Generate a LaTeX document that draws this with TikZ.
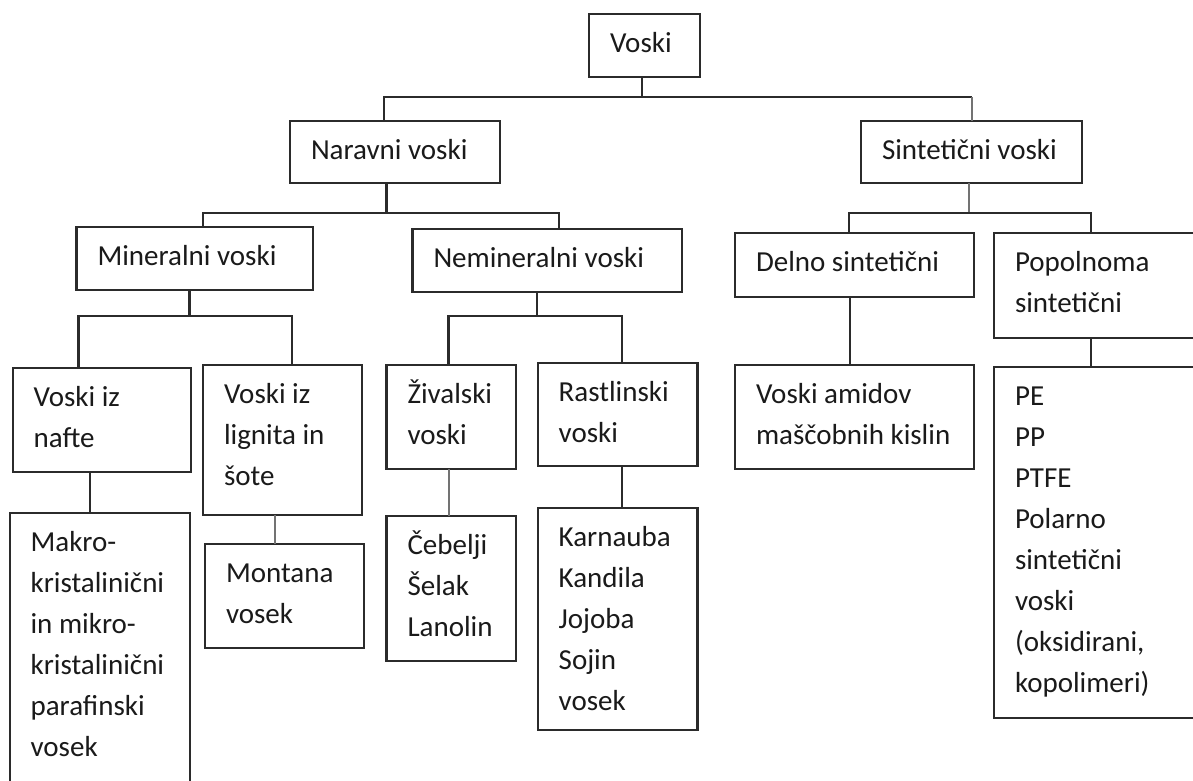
\documentclass[tikz,border=0pt]{standalone}
\usepackage{fontspec}
\setmainfont{Carlito}
\definecolor{linecol}{HTML}{2B2B2B}
\definecolor{textcol}{HTML}{1A1A1A}
\newcommand\celltext[3]{\parbox[t][#2][t]{#1}{\fontsize{29}{41}\selectfont\parindent0pt\leftskip21pt\relax\rule{0pt}{38pt}#3\par}}
\newcommand\bx[6]{\node[wbox] (#1) at (#2,#3) {\celltext{#4pt}{#5pt}{#6}};}
\begin{document}
\begin{tikzpicture}[x=1pt,y=-1pt,
  wbox/.style={draw=linecol, line width=2.2pt, inner sep=0pt, outer sep=0pt, anchor=north west, text=textcol},
  conn/.style={draw=linecol, line width=2.2pt},
  thinconn/.style={draw=black!55, line width=1.3pt}]
\useasboundingbox (0,0) rectangle (1193,780);
\fill[white] (0,0) rectangle (1193,780);
\clip (0,0) rectangle (1193,780);
% boxes: name, x, y, width, height, text
\bx{voski}{589}{14}{111}{63}{Voski}
\bx{naravni}{290}{121}{210}{62}{Naravni voski}
\bx{sinteticni}{861}{121}{221}{62}{Sintetični voski}
\bx{mineralni}{76.5}{227}{236.5}{63}{Mineralni voski}
\bx{nemineralni}{412.5}{229}{269.5}{63}{Nemineralni voski}
\bx{delno}{735}{233}{239}{64}{Delno sintetični}
\bx{popolnoma}{994}{233}{210}{105}{Popolnoma\\sintetični}
\bx{nafte}{12.6}{368}{178.4}{104}{Voski iz\\nafte}
\bx{lignita}{203}{365}{159}{150}{Voski iz\\lignita in\\šote}
\bx{zivalski}{386.5}{365}{129.5}{104}{Živalski\\voski}
\bx{rastlinski}{537.7}{363}{159.8}{103}{Rastlinski\\voski}
\bx{amidov}{735}{365}{239}{104}{Voski amidov\\maščobnih kislin}
\bx{pe}{994}{367}{210}{351}{PE\\PP\\PTFE\\Polarno\\sintetični\\voski\\(oksidirani,\\kopolimeri)}
\bx{makro}{9.6}{513}{180.4}{290}{Makro-\\kristalinični\\in mikro-\\kristalinični\\parafinski\\vosek}
\bx{montana}{205}{544}{158.6}{104}{Montana\\vosek}
\bx{cebelji}{386.5}{516}{129.5}{145}{Čebelji\\Šelak\\Lanolin}
\bx{karnauba}{537.7}{508}{159.8}{222}{Karnauba\\Kandila\\Jojoba\\Sojin\\vosek}
% level 1
\draw[conn] (641.6,0 |- voski.south) -- (641.6,97);
\draw[conn] (384,0 |- naravni.north) |- (972,97);
\draw[thinconn] (972,97) -- (972,0 |- sinteticni.north);
% naravni
\draw[conn] (386.5,0 |- naravni.south) -- (386.5,213);
\draw[conn] (203,0 |- mineralni.north) |- (559,213) -- (559,0 |- nemineralni.north);
% sinteticni
\draw[thinconn] (969,0 |- sinteticni.south) -- (969,213);
\draw[conn] (848.6,0 |- delno.north) |- (1091,213) -- (1091,0 |- popolnoma.north);
% mineralni
\draw[conn] (189.5,0 |- mineralni.south) -- (189.5,316);
\draw[conn] (78.5,0 |- nafte.north) |- (291.6,316) -- (291.6,0 |- lignita.north);
% nemineralni
\draw[conn] (537,0 |- nemineralni.south) -- (537,316);
\draw[conn] (448.5,0 |- zivalski.north) |- (622,316) -- (622,0 |- rastlinski.north);
% leaves
\draw[conn] (850,0 |- delno.south) -- (850,0 |- amidov.north);
\draw[conn] (1091,0 |- popolnoma.south) -- (1091,0 |- pe.north);
\draw[conn] (90,0 |- nafte.south) -- (90,0 |- makro.north);
\draw[thinconn] (275,0 |- lignita.south) -- (275,0 |- montana.north);
\draw[thinconn] (449,0 |- zivalski.south) -- (449,0 |- cebelji.north);
\draw[conn] (622,0 |- rastlinski.south) -- (622,0 |- karnauba.north);
\end{tikzpicture}
\end{document}
